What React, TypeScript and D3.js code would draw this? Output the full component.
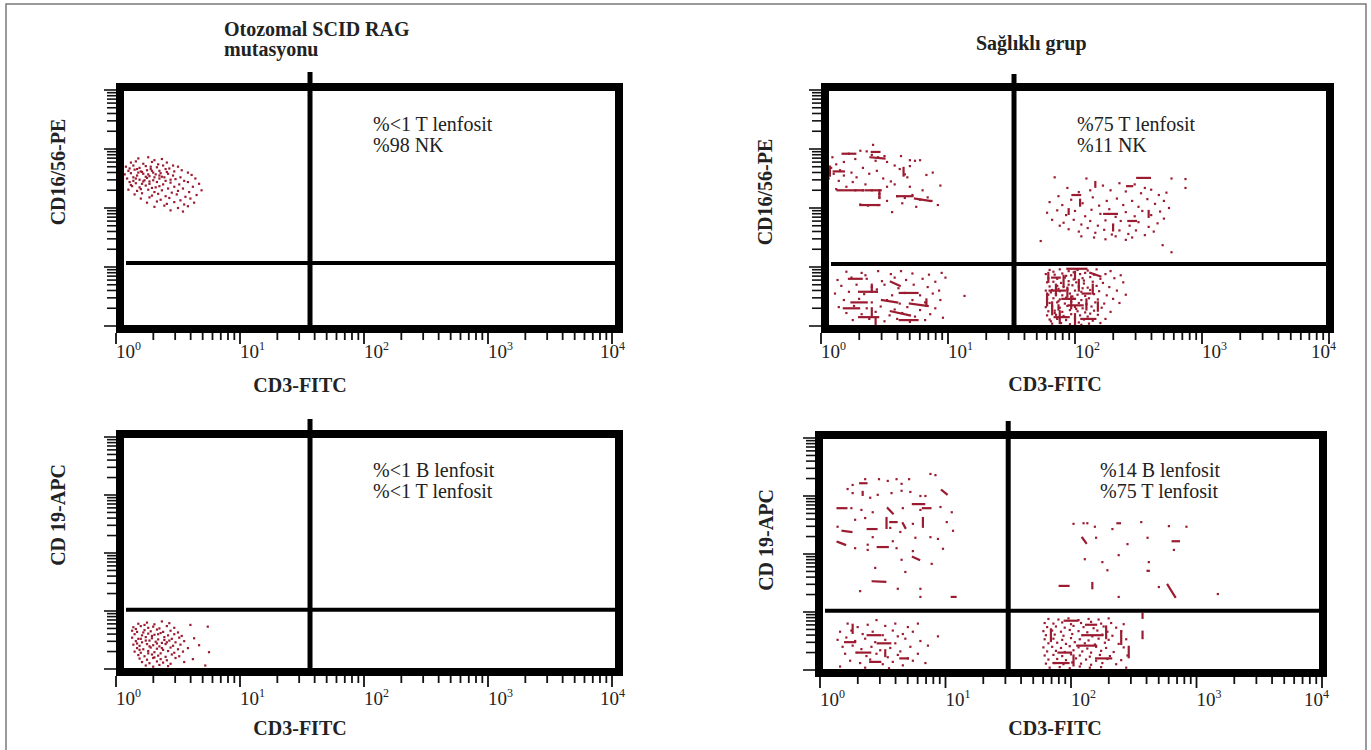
import React from 'react';
import * as d3 from 'd3';

const FONT = "Liberation Serif, Tinos, 'Times New Roman', 'DejaVu Serif', serif";
const DOT = '#9b1b30';

// ---------- text ----------
const leftTitle = ['Otozomal SCID RAG', 'mutasyonu'];
const rightTitle = 'Sağlıklı grup';
const xAxisLabel = 'CD3-FITC';
const yAxisLabels = ['CD16/56-PE', 'CD16/56-PE', 'CD 19-APC', 'CD 19-APC'];
const annotations = [
  ['%<1 T lenfosit', '%98 NK'],
  ['%75 T lenfosit', '%11 NK'],
  ['%<1 B lenfosit', '%<1 T lenfosit'],
  ['%14 B lenfosit', '%75 T lenfosit'],
];
const decadeExponents = [0, 1, 2, 3, 4];
// quadrant gates (fluorescence intensity)
const gateX = [36.7, 33.1, 36.7, 31.6];
const gateY = [11.7, 11.2, 10.5, 10.5];

// ---------- events, [log10 CD3, log10 marker] ----------
const tlNK = [
  [0.18,2.84],[0.26,2.86],[0.31,2.81],[0.37,2.83],[0.12,2.77],[0.16,2.79],[0.22,2.75],[0.29,2.78],[0.34,2.74],[0.41,2.77],[0.46,2.72],
  [0.08,2.70],[0.14,2.72],[0.19,2.68],[0.24,2.71],[0.28,2.66],[0.33,2.69],[0.38,2.72],[0.43,2.67],[0.50,2.70],
  [0.10,2.63],[0.15,2.65],[0.21,2.61],[0.25,2.64],[0.30,2.60],[0.35,2.63],[0.40,2.66],[0.47,2.62],[0.53,2.64],[0.58,2.60],
  [0.07,2.57],[0.12,2.59],[0.17,2.55],[0.22,2.58],[0.27,2.54],[0.32,2.57],[0.37,2.53],[0.42,2.58],[0.46,2.55],[0.52,2.52],[0.61,2.56],
  [0.09,2.50],[0.14,2.52],[0.19,2.48],[0.25,2.51],[0.30,2.47],[0.35,2.50],[0.40,2.46],[0.48,2.49],[0.55,2.46],[0.64,2.50],
  [0.11,2.44],[0.16,2.42],[0.22,2.45],[0.27,2.41],[0.33,2.44],[0.38,2.40],[0.44,2.43],[0.51,2.40],[0.58,2.44],[0.67,2.41],
  [0.13,2.37],[0.19,2.35],[0.24,2.38],[0.29,2.34],[0.35,2.37],[0.42,2.33],[0.47,2.36],[0.54,2.33],[0.62,2.36],
  [0.10,2.31],[0.17,2.29],[0.26,2.31],[0.31,2.27],[0.37,2.30],[0.45,2.26],[0.50,2.29],[0.59,2.27],[0.69,2.30],
  [0.15,2.23],[0.21,2.25],[0.29,2.21],[0.34,2.24],[0.40,2.20],[0.49,2.23],[0.56,2.19],[0.65,2.22],
  [0.20,2.16],[0.27,2.18],[0.36,2.14],[0.43,2.17],[0.52,2.13],[0.60,2.16],
  [0.25,2.09],[0.33,2.11],[0.41,2.07],[0.47,2.10],[0.55,2.06],[0.63,2.09],
  [0.31,2.02],[0.39,2.04],[0.50,2.00],[0.58,2.03],[0.44,1.96],[0.54,1.94],
  [0.20,2.62],[0.26,2.57],[0.17,2.66],[0.31,2.52],[0.23,2.47],[0.36,2.59],[0.14,2.46],[0.28,2.70],[0.39,2.52],[0.21,2.41],[0.32,2.35],[0.44,2.48],
  [0.11,2.67],[0.18,2.60],[0.24,2.53],[0.29,2.63],[0.35,2.55],[0.16,2.50],[0.27,2.45],[0.12,2.39],[0.41,2.61],[0.20,2.32],
];

const blT = [
  [0.18,0.78],[0.25,0.80],[0.31,0.77],[0.37,0.82],[0.43,0.79],
  [0.14,0.72],[0.20,0.74],[0.26,0.71],[0.30,0.73],[0.35,0.70],[0.41,0.74],[0.47,0.71],[0.60,0.76],[0.74,0.73],
  [0.13,0.66],[0.17,0.64],[0.23,0.67],[0.28,0.65],[0.33,0.68],[0.38,0.64],[0.44,0.66],[0.50,0.63],
  [0.15,0.60],[0.21,0.58],[0.26,0.61],[0.31,0.59],[0.36,0.62],[0.42,0.58],[0.47,0.60],[0.53,0.57],
  [0.13,0.54],[0.18,0.52],[0.24,0.55],[0.29,0.53],[0.34,0.51],[0.39,0.55],[0.45,0.52],[0.51,0.54],[0.63,0.53],
  [0.16,0.48],[0.21,0.46],[0.27,0.49],[0.32,0.47],[0.37,0.45],[0.43,0.49],[0.48,0.46],[0.55,0.48],
  [0.14,0.42],[0.19,0.40],[0.25,0.43],[0.30,0.41],[0.35,0.39],[0.40,0.43],[0.46,0.40],[0.52,0.42],[0.67,0.41],
  [0.17,0.36],[0.22,0.34],[0.28,0.37],[0.33,0.35],[0.38,0.33],[0.44,0.37],[0.50,0.34],[0.58,0.36],
  [0.15,0.30],[0.20,0.28],[0.26,0.31],[0.31,0.29],[0.36,0.27],[0.42,0.31],[0.47,0.28],[0.54,0.30],[0.75,0.29],
  [0.18,0.24],[0.23,0.22],[0.29,0.25],[0.34,0.23],[0.40,0.21],[0.45,0.25],[0.51,0.22],
  [0.19,0.18],[0.25,0.16],[0.30,0.19],[0.36,0.17],[0.41,0.15],[0.48,0.19],[0.62,0.17],
  [0.21,0.12],[0.27,0.10],[0.33,0.13],[0.38,0.11],[0.44,0.09],[0.55,0.12],
  [0.24,0.06],[0.30,0.04],[0.35,0.07],[0.42,0.05],[0.72,0.06],
  [0.22,0.63],[0.29,0.57],[0.24,0.49],[0.33,0.44],[0.27,0.39],[0.39,0.50],[0.19,0.33],[0.31,0.20],
  [0.16,0.69],[0.23,0.76],[0.34,0.60],[0.20,0.52],[0.41,0.46],[0.26,0.27],[0.37,0.36],[0.17,0.44],
];

// Healthy: CD16/56 vs CD3
const trNK = [
  [0.41,3.07],[0.22,2.92],[0.31,2.97],[0.36,2.96],[0.40,2.90],[0.45,2.86],[0.50,2.88],[0.43,2.80],[0.52,2.78],[0.70,2.81],[0.74,2.80],
  [0.78,2.81],[0.70,2.71],[0.09,2.86],[0.05,2.80],[0.12,2.74],[0.08,2.68],[0.15,2.64],[0.10,2.58],[0.18,2.55],[0.06,2.50],[0.14,2.46],
  [0.24,2.60],[0.28,2.52],[0.33,2.68],[0.38,2.58],[0.44,2.63],[0.49,2.50],[0.55,2.45],[0.62,2.66],[0.66,2.57],[0.68,2.52],[0.83,2.56],
  [0.88,2.60],[0.58,2.40],[0.20,2.36],[0.12,2.32],[0.27,2.30],[0.33,2.30],[0.40,2.30],[0.46,2.24],[0.46,2.18],[0.52,2.36],[0.60,2.20],
  [0.66,2.17],[0.72,2.22],[0.78,2.14],[0.84,2.18],[0.87,2.12],[0.31,2.06],[0.37,2.04],[0.45,2.05],[0.56,1.93],[0.92,2.05],[0.75,2.02],
  [0.64,2.08],[0.25,2.44],[0.35,2.40],[0.18,2.78],[0.27,2.83],[0.58,2.72],[0.63,2.88],[0.94,2.38],[0.80,2.30],[0.52,2.12],[0.70,2.36],
];
const trNKDash = [
  [0.17,2.92,0.27,2.92],[0.39,2.86,0.50,2.84],[0.13,2.30,0.33,2.30],[0.35,2.30,0.47,2.30],[0.46,2.30,0.46,2.17],[0.60,2.20,0.72,2.20],
  [0.74,2.16,0.86,2.12],[0.31,2.05,0.46,2.05],[0.65,2.68,0.65,2.55],[0.07,2.70,0.07,2.55],[0.10,2.62,0.18,2.62],[0.40,2.95,0.46,2.95],
];
const trNKT = [
  [1.84,2.52],[2.09,2.50],[2.35,2.42],[2.55,2.34],[2.76,2.50],[2.87,2.49],[2.87,2.34],[1.94,2.34],[1.87,2.20],[2.03,2.27],[2.12,2.30],
  [2.22,2.38],[2.28,2.30],[2.40,2.28],[2.47,2.40],[2.52,2.25],[2.60,2.31],[2.66,2.22],[2.72,2.26],[1.80,2.10],[1.90,2.05],[1.97,2.14],
  [2.06,2.08],[2.14,2.18],[2.19,2.04],[2.25,2.12],[2.33,2.16],[2.38,2.05],[2.45,2.12],[2.50,2.02],[2.57,2.15],[2.63,2.07],[2.70,2.12],
  [2.74,2.00],[1.78,1.92],[1.86,1.96],[1.93,1.88],[2.00,1.95],[2.08,1.86],[2.13,1.97],[2.20,1.90],[2.27,1.98],[2.32,1.85],[2.40,1.93],
  [2.47,1.86],[2.53,1.95],[2.60,1.88],[2.67,1.94],[1.82,1.80],[1.91,1.75],[1.99,1.80],[2.05,1.72],[2.12,1.78],[2.18,1.70],[2.24,1.79],
  [2.30,1.72],[2.36,1.78],[2.43,1.70],[2.50,1.76],[2.58,1.68],[2.65,1.74],[1.95,1.64],[2.03,1.60],[2.10,1.66],[2.16,1.58],[2.23,1.63],
  [2.29,1.55],[2.35,1.62],[2.42,1.56],[2.48,1.62],[2.55,1.54],[2.62,1.60],[2.15,1.50],[2.24,1.47],[2.32,1.52],[2.40,1.46],[2.45,1.50],
  [1.73,1.44],[2.69,1.37],[2.76,1.25],[2.05,1.52],[2.70,1.82],[1.88,1.70],
];
const trNKTDash = [
  [2.49,2.51,2.59,2.51],[2.16,2.44,2.16,2.36],[1.98,2.22,2.04,2.22],[2.41,2.37,2.45,2.37],[2.23,1.90,2.33,1.90],[2.58,1.95,2.58,1.85],
  [2.04,2.14,2.04,2.04],[2.30,1.70,2.30,1.62],[2.42,1.78,2.48,1.78],[1.95,1.98,1.95,1.90],
];
const trDN = [
  [0.20,0.92],[0.32,0.90],[0.45,0.93],[0.55,0.88],[0.63,0.93],[0.72,0.89],[0.85,0.87],[0.95,0.90],[0.13,0.78],[0.24,0.82],[0.36,0.80],
  [0.48,0.76],[0.58,0.82],[0.67,0.78],[0.80,0.80],[0.90,0.75],[0.98,0.82],[0.16,0.68],[0.28,0.70],[0.40,0.66],[0.50,0.70],[0.61,0.64],
  [0.73,0.70],[0.84,0.66],[0.93,0.60],[0.11,0.55],[0.22,0.58],[0.34,0.54],[0.44,0.58],[0.56,0.52],[0.66,0.56],[0.78,0.52],[0.88,0.55],
  [1.13,0.51],[0.18,0.44],[0.30,0.46],[0.40,0.40],[0.52,0.44],[0.62,0.38],[0.72,0.44],[0.82,0.40],[0.94,0.44],[0.14,0.32],[0.26,0.34],
  [0.36,0.30],[0.47,0.33],[0.58,0.28],[0.68,0.32],[0.78,0.27],[0.90,0.30],[0.20,0.22],[0.32,0.20],[0.43,0.24],[0.54,0.18],[0.64,0.22],
  [0.74,0.16],[0.86,0.20],[0.25,0.10],[0.38,0.12],[0.50,0.08],[0.60,0.12],[0.70,0.07],[0.82,0.10],[0.96,0.14],[0.44,0.62],[0.35,0.86],
];
const trDNDash = [
  [0.22,0.80,0.32,0.80],[0.40,0.70,0.40,0.58],[0.55,0.75,0.62,0.68],[0.30,0.58,0.44,0.58],[0.62,0.56,0.76,0.56],[0.24,0.40,0.36,0.40],
  [0.48,0.44,0.60,0.40],[0.70,0.38,0.84,0.34],[0.18,0.30,0.30,0.30],[0.40,0.30,0.40,0.18],[0.55,0.25,0.70,0.18],[0.30,0.15,0.45,0.15],
  [0.62,0.10,0.76,0.10],[0.83,0.45,0.83,0.34],[0.43,0.12,0.43,-0.02],
];
const trT = [
  [1.80,0.95],[1.88,0.96],[1.95,0.93],[2.02,0.95],[2.10,0.94],[2.17,0.96],[2.28,0.93],
  [1.77,0.88],[1.84,0.87],[1.90,0.89],[1.97,0.86],[2.04,0.88],[2.08,0.90],[2.15,0.87],[2.24,0.88],[2.36,0.86],
  [1.79,0.81],[1.86,0.80],[1.92,0.82],[1.99,0.79],[2.06,0.81],[2.12,0.83],[2.20,0.80],[2.31,0.81],
  [1.78,0.74],[1.83,0.75],[1.89,0.73],[1.95,0.76],[2.01,0.74],[2.07,0.72],[2.14,0.75],[2.22,0.73],[2.38,0.74],
  [1.80,0.67],[1.86,0.68],[1.91,0.66],[1.98,0.69],[2.03,0.67],[2.10,0.65],[2.17,0.68],[2.27,0.66],
  [1.77,0.60],[1.82,0.61],[1.88,0.59],[1.94,0.62],[2.00,0.60],[2.05,0.58],[2.12,0.61],[2.19,0.59],[2.33,0.60],
  [1.79,0.53],[1.85,0.54],[1.90,0.52],[1.96,0.55],[2.02,0.53],[2.08,0.51],[2.15,0.54],[2.25,0.52],[2.40,0.53],
  [1.78,0.46],[1.83,0.47],[1.88,0.45],[1.93,0.48],[1.99,0.46],[2.05,0.44],[2.11,0.47],[2.18,0.45],[2.30,0.46],
  [1.80,0.39],[1.86,0.40],[1.92,0.38],[1.97,0.41],[2.03,0.39],[2.09,0.37],[2.16,0.40],[2.23,0.38],[2.35,0.39],
  [1.77,0.32],[1.82,0.33],[1.88,0.31],[1.94,0.34],[2.00,0.32],[2.06,0.30],[2.13,0.33],[2.21,0.31],
  [1.79,0.25],[1.84,0.26],[1.90,0.24],[1.96,0.27],[2.02,0.25],[2.08,0.23],[2.15,0.26],[2.28,0.24],
  [1.78,0.18],[1.85,0.19],[1.91,0.17],[1.97,0.20],[2.04,0.18],[2.10,0.16],[2.18,0.19],
  [1.80,0.11],[1.86,0.12],[1.93,0.10],[2.00,0.13],[2.07,0.11],[2.14,0.09],[2.24,0.12],
  [1.82,0.04],[1.89,0.05],[1.96,0.03],[2.03,0.06],[2.11,0.04],[2.20,0.05],
  [1.81,0.57],[1.87,0.42],[1.95,0.70],[2.01,0.29],[1.84,0.22],[1.93,0.85],[2.06,0.64],[1.98,0.50],
  [1.83,0.92],[1.99,0.91],[1.87,0.63],[2.07,0.77],[1.93,0.15],[2.12,0.21],[1.81,0.08],[2.05,0.02],
];
const trTDash = [
  [1.79,0.90,1.79,0.75],[1.85,0.70,1.85,0.52],[1.91,0.85,1.91,0.68],[1.97,0.50,1.97,0.30],[2.03,0.78,2.03,0.60],[1.82,0.40,1.82,0.20],
  [2.09,0.45,2.09,0.28],[1.88,0.25,1.88,0.05],[2.00,0.20,2.00,0.02],[2.14,0.70,2.14,0.55],[1.94,0.97,2.09,0.97],[1.80,0.60,1.92,0.60],
  [1.95,0.35,2.06,0.35],[2.05,0.12,2.16,0.12],[1.84,0.15,1.95,0.15],[2.12,0.90,2.20,0.84],[1.90,0.46,2.00,0.46],[2.18,0.40,2.18,0.26],
  [1.78,0.55,1.78,0.35],[1.94,0.65,1.94,0.50],[2.00,0.92,2.00,0.80],[1.87,0.35,1.87,0.28],[2.06,0.55,2.12,0.55],[1.82,0.82,1.88,0.82],
];

// Healthy: CD19 vs CD3
const brB = [
  [0.88,3.38],[0.92,3.36],[0.36,3.29],[0.47,3.29],[0.54,3.26],[0.61,3.29],[0.65,3.21],[0.71,3.29],[0.26,3.19],[0.22,3.12],[0.26,3.05],
  [0.46,3.02],[0.57,3.05],[0.65,3.09],[0.72,3.07],[0.40,2.97],[0.80,3.00],[0.84,3.00],[0.25,2.79],[0.33,2.76],[0.42,2.72],[0.66,2.79],
  [0.80,2.76],[0.96,2.81],[1.05,2.72],[0.28,2.59],[0.36,2.62],[0.74,2.52],[1.01,2.55],[0.14,2.47],[0.56,2.45],[0.64,2.38],[1.06,2.40],
  [0.42,2.29],[0.58,2.22],[0.76,2.28],[0.88,2.29],[0.94,2.26],[0.28,2.10],[0.38,2.16],[0.61,2.10],[0.98,2.09],[0.38,2.07],[0.74,2.05],
  [0.65,1.90],[0.89,1.83],[0.44,1.76],[0.68,1.69],[0.32,1.36],[0.62,1.40],[0.80,1.40],[0.80,1.26],
];
const brBDash = [
  [0.32,3.22,0.37,3.22],[0.34,3.07,0.34,3.02],[0.97,3.10,1.01,3.03],[0.74,2.86,0.83,2.86],[0.14,2.79,0.21,2.79],[0.82,2.79,0.88,2.79],
  [0.54,2.79,0.58,2.70],[0.53,2.62,0.53,2.45],[0.56,2.55,0.61,2.55],[0.66,2.53,0.68,2.45],[0.82,2.62,0.82,2.47],[0.18,2.40,0.25,2.38],
  [0.38,2.43,0.45,2.43],[0.14,2.21,0.20,2.16],[0.46,2.12,0.54,2.12],[0.74,1.95,0.79,1.90],[0.42,1.53,0.52,1.52],[1.05,1.26,1.08,1.26],
];
const brBT = [
  [2.02,2.52],[2.10,2.53],[2.13,2.53],[2.19,2.47],[2.56,2.55],[2.78,2.48],[2.92,2.47],[2.33,2.43],[2.20,2.28],[2.45,2.17],[2.61,2.28],
  [2.82,2.07],[2.11,1.91],[2.25,1.86],[2.38,1.98],[2.62,1.86],[2.29,1.72],[2.70,1.43],[2.38,1.26],[3.17,1.31],
];
const brBTDash = [
  [2.37,2.53,2.39,2.53],[2.09,2.28,2.12,2.19],[2.81,2.22,2.86,2.22],[2.61,1.71,2.62,1.71],[1.91,1.45,1.98,1.45],[2.17,1.50,2.17,1.41],
  [2.77,1.47,2.83,1.26],
];
const brDN = [
  [0.45,0.86],[0.22,0.80],[0.30,0.74],[0.38,0.78],[0.52,0.76],[0.60,0.80],[0.70,0.74],[0.78,0.80],[0.16,0.66],[0.25,0.68],[0.34,0.62],
  [0.42,0.66],[0.50,0.60],[0.58,0.68],[0.66,0.62],[0.74,0.66],[0.94,0.58],[0.14,0.52],[0.21,0.56],[0.28,0.50],[0.36,0.54],[0.44,0.48],
  [0.52,0.52],[0.60,0.46],[0.68,0.54],[0.80,0.50],[0.18,0.40],[0.26,0.42],[0.33,0.36],[0.41,0.40],[0.48,0.34],[0.56,0.38],[0.64,0.32],
  [0.72,0.40],[0.86,0.42],[0.20,0.28],[0.29,0.30],[0.37,0.24],[0.45,0.28],[0.54,0.22],[0.62,0.26],[0.70,0.20],[0.78,0.28],[0.24,0.16],
  [0.32,0.12],[0.40,0.18],[0.50,0.10],[0.58,0.14],[0.66,0.08],[0.74,0.16],[0.16,0.06],[0.36,0.04],[0.55,0.03],[0.84,0.12],[0.62,0.58],
];
const brDNDash = [
  [0.26,0.78,0.26,0.64],[0.38,0.60,0.48,0.60],[0.46,0.46,0.56,0.46],[0.30,0.30,0.40,0.30],[0.52,0.34,0.52,0.24],[0.64,0.20,0.70,0.20],
  [0.20,0.48,0.28,0.48],[0.40,0.14,0.48,0.14],
];
const brT = [
  [1.82,0.88],[1.90,0.87],[1.98,0.89],[2.06,0.86],[2.14,0.88],[2.22,0.87],[2.30,0.89],
  [1.79,0.81],[1.86,0.80],[1.93,0.82],[2.00,0.79],[2.08,0.81],[2.16,0.83],[2.24,0.80],[2.32,0.81],[2.42,0.79],
  [1.81,0.74],[1.88,0.75],[1.95,0.73],[2.02,0.76],[2.10,0.74],[2.18,0.72],[2.26,0.75],[2.36,0.73],
  [1.78,0.67],[1.85,0.68],[1.92,0.66],[1.99,0.69],[2.06,0.67],[2.13,0.65],[2.21,0.68],[2.29,0.66],[2.40,0.67],
  [1.80,0.60],[1.87,0.61],[1.94,0.59],[2.01,0.62],[2.09,0.60],[2.17,0.58],[2.25,0.61],[2.33,0.59],
  [1.79,0.53],[1.86,0.54],[1.93,0.52],[2.00,0.55],[2.07,0.53],[2.14,0.51],[2.22,0.54],[2.30,0.52],[2.44,0.53],
  [1.82,0.46],[1.89,0.47],[1.96,0.45],[2.03,0.48],[2.11,0.46],[2.19,0.44],[2.27,0.47],[2.38,0.45],
  [1.78,0.39],[1.85,0.40],[1.92,0.38],[1.99,0.41],[2.06,0.39],[2.13,0.37],[2.20,0.40],[2.28,0.38],[2.42,0.39],
  [1.81,0.32],[1.88,0.33],[1.95,0.31],[2.02,0.34],[2.09,0.32],[2.16,0.30],[2.24,0.33],[2.34,0.31],
  [1.79,0.25],[1.86,0.26],[1.93,0.24],[2.00,0.27],[2.07,0.25],[2.15,0.23],[2.23,0.26],[2.31,0.24],[2.45,0.25],
  [1.82,0.18],[1.89,0.19],[1.96,0.17],[2.04,0.20],[2.12,0.18],[2.20,0.16],[2.29,0.19],[2.40,0.17],
  [1.80,0.11],[1.87,0.12],[1.94,0.10],[2.01,0.13],[2.08,0.11],[2.16,0.09],[2.25,0.12],[2.36,0.10],
  [1.83,0.04],[1.91,0.05],[1.99,0.03],[2.07,0.06],[2.15,0.04],[2.24,0.05],[2.44,0.04],
];
const brTDash = [
  [1.84,0.70,1.84,0.50],[1.95,0.85,2.05,0.85],[2.10,0.60,2.25,0.60],[2.28,0.75,2.28,0.55],[2.40,0.66,2.40,0.45],[1.90,0.30,2.00,0.30],
  [2.05,0.42,2.20,0.42],[2.20,0.20,2.32,0.20],[1.86,0.12,1.98,0.12],[2.02,0.25,2.02,0.08],[2.12,0.78,2.20,0.78],[2.57,0.97,2.57,0.90],
  [2.57,0.66,2.57,0.55],[2.46,0.40,2.46,0.22],
];

// ---------- layout (pixels) ----------
const layout = [
  { l: 116, r: 623, t: 83, b: 333, xr: [116, 612], yr: [326, 90], gateTop: 72, yLab: [60, 172], xLab: [300, 392], tickBase: 358, ann: [373, 131] },
  { l: 821, r: 1334, t: 83, b: 333, xr: [821, 1329], yr: [326, 90], gateTop: 74, yLab: [767, 192], xLab: [1055, 391], tickBase: 358, ann: [1077, 131] },
  { l: 116, r: 623, t: 430, b: 676, xr: [116, 612], yr: [669, 437], gateTop: 419, yLab: [60, 515], xLab: [300, 735], tickBase: 705, ann: [373, 477] },
  { l: 815, r: 1327, t: 431, b: 677, xr: [820, 1322], yr: [670, 438], gateTop: 421, yLab: [768, 540], xLab: [1055, 735], tickBase: 706, ann: [1100, 477] },
];

const panelPoints = [[tlNK], [trNK, trNKT, trDN, trT], [blT], [brB, brBT, brDN, brT]];
const panelDashes = [[], [trNKDash, trNKTDash, trDNDash, trTDash], [], [brBDash, brBTDash, brDNDash, brTDash]];

const txt = (size: number, bold = false) => ({ fontFamily: FONT, fontSize: size, fontWeight: bold ? 'bold' : 'normal' });

function Panel({ i }: { i: number }) {
  const L = layout[i];
  const x = d3.scaleLog().domain([1, 1e4]).range(L.xr);
  const y = d3.scaleLog().domain([1, 1e4]).range(L.yr);
  const tickVals: number[] = [];
  for (let e = 0; e < 4; e++) for (let k = 1; k < 10; k++) tickVals.push(k * Math.pow(10, e));
  tickVals.push(1e4);
  const clipId = `clip${i}`;
  const pts = panelPoints[i].flat();
  const dashes = panelDashes[i].flat();
  const gx = x(gateX[i]);
  const gy = y(gateY[i]);
  return (
    <g>
      <defs>
        <clipPath id={clipId}>
          <rect x={L.l + 8} y={L.t + 8} width={L.r - L.l - 16} height={L.b - L.t - 16} />
        </clipPath>
      </defs>
      <g clipPath={`url(#${clipId})`}>
        {pts.map((p, j) => (
          <rect key={j} x={x(Math.pow(10, p[0])) - 1.1} y={y(Math.pow(10, p[1])) - 1.1} width={2.2} height={2.2} fill={DOT} />
        ))}
        {dashes.map((d, j) => (
          <line key={'d' + j} x1={x(Math.pow(10, d[0]))} y1={y(Math.pow(10, d[1]))} x2={x(Math.pow(10, d[2]))} y2={y(Math.pow(10, d[3]))}
            stroke={DOT} strokeWidth={2.2} strokeLinecap="square" />
        ))}
      </g>
      {tickVals.map((v, j) => {
        const major = Math.log10(v) % 1 === 0;
        const yy = y(v);
        return <line key={'yt' + j} x1={L.l - (major ? 12 : 9)} x2={L.l} y1={yy} y2={yy} stroke="#111" strokeWidth={1.6} />;
      })}
      {tickVals.map((v, j) => {
        const major = Math.log10(v) % 1 === 0;
        const xx = x(v);
        return <line key={'xt' + j} x1={xx} x2={xx} y1={L.b} y2={L.b + (major ? 11 : 7)} stroke="#111" strokeWidth={1.8} />;
      })}
      <line x1={gx} x2={gx} y1={L.gateTop} y2={L.b} stroke="#000" strokeWidth={5} />
      <line x1={L.l + 10} x2={L.r - 8} y1={gy} y2={gy} stroke="#000" strokeWidth={4} />
      <rect x={L.l + 4} y={L.t + 4} width={L.r - L.l - 8} height={L.b - L.t - 8} fill="none" stroke="#000" strokeWidth={8} />
      {decadeExponents.map((e, j) => {
        const last = j === decadeExponents.length - 1;
        return (
          <text key={'tl' + j} x={last ? L.r + 2 : x(Math.pow(10, e))} y={L.tickBase} textAnchor={last ? 'end' : 'start'}
            style={txt(19)} fill="#222">
            10<tspan dy={-8} style={{ fontSize: 12 }}>{e}</tspan>
          </text>
        );
      })}
      <text x={L.xLab[0]} y={L.xLab[1]} textAnchor="middle" style={txt(20, true)} fill="#222">{xAxisLabel}</text>
      <text transform={`translate(${L.yLab[0]},${L.yLab[1]}) rotate(-90)`} textAnchor="middle" dominantBaseline="middle"
        style={txt(20, true)} fill="#222">{yAxisLabels[i]}</text>
      {annotations[i].map((s, j) => (
        <text key={'a' + j} x={L.ann[0]} y={L.ann[1] + j * 21} style={txt(20)} fill="#222">{s}</text>
      ))}
    </g>
  );
}

export default function App() {
  return (
    <div style={{ position: 'absolute', left: 0, top: 0 }}>
      <svg width={1371} height={750} style={{ display: 'block', background: '#fff' }}>
        <rect x={6} y={4} width={1360} height={760} fill="none" stroke="#7a7a7a" strokeWidth={1.5} />
        <text x={224} y={36} style={txt(20, true)} fill="#222">{leftTitle[0]}</text>
        <text x={224} y={56} style={txt(20, true)} fill="#222">{leftTitle[1]}</text>
        <text x={976} y={50} style={txt(20, true)} fill="#222">{rightTitle}</text>
        {[0, 1, 2, 3].map((i) => <Panel key={i} i={i} />)}
      </svg>
    </div>
  );
}
